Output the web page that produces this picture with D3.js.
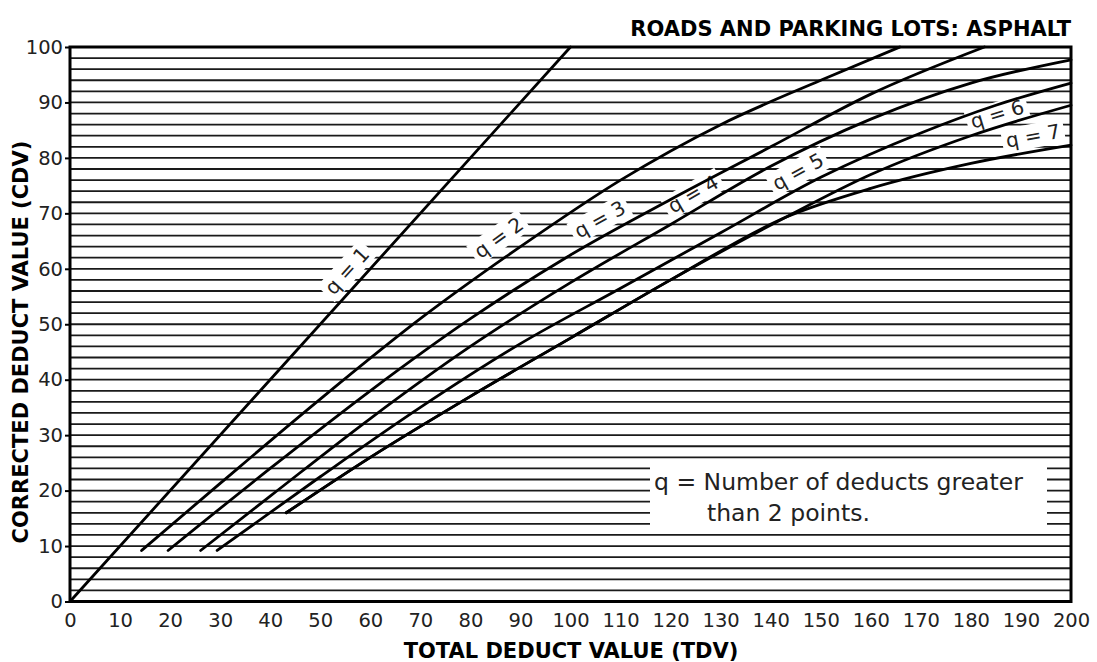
<!DOCTYPE html>
<html>
<head>
<meta charset="utf-8">
<script src="https://cdn.jsdelivr.net/npm/d3@7"></script>
<style>
  body { margin: 0; background: #fff; }
  svg text { font-family: "DejaVu Sans", Verdana, sans-serif; }
</style>
</head>
<body>
<div id="chart"></div>
<script>
"use strict";

// values (TDV on x, CDV on y)
var xTicks = [0,10,20,30,40,50,60,70,80,90,100,110,120,130,140,150,160,170,180,190,200];
var yTicks = [0,10,20,30,40,50,60,70,80,90,100];

var q1Tdv = [0, 100];
var q1Cdv = [0, 100];
var q2Tdv = [14.3, 30, 50, 70, 90, 110, 130, 150, 165.8];
var q2Cdv = [9.2, 21.3, 36.5, 51, 64, 76, 86, 94, 100];
var q3Tdv = [19.6, 40, 60, 80, 100, 120, 140, 160, 182.7];
var q3Cdv = [9.2, 24, 38, 51, 62.5, 72.5, 82, 91.5, 100];
var q4Tdv = [26.1, 40, 60, 80, 100, 120, 140, 160, 180, 200];
var q4Cdv = [9.2, 19, 33, 46, 57.5, 68, 78.5, 87, 93.5, 97.7];
var q5Tdv = [29.4, 50, 70, 90, 110, 130, 150, 170, 185, 200];
var q5Cdv = [9.2, 22.5, 35, 46.5, 56.5, 66.5, 76.5, 84.5, 89.5, 93.5];
var q6Tdv = [43.2, 60, 80, 100, 120, 143, 160, 180, 200];
var q6Cdv = [16, 26, 37, 47.5, 58, 69.3, 77, 84, 89.5];
var q7Tdv = [43.2, 60, 80, 100, 120, 143, 160, 180, 200];
var q7Cdv = [16, 26, 37, 47.5, 58, 69.3, 74.5, 79, 82.3];

var curveNames = ["q = 1", "q = 2", "q = 3", "q = 4", "q = 5", "q = 6", "q = 7"];
// where the label sits along each curve (TDV) and how far above it
var labelAt = [57.7, 88, 107.5, 126, 147, 186, 193];
var labelOffset = [16, 20, 17, 15, 16, 13, 16];

var curves = [
  [q1Tdv, q1Cdv], [q2Tdv, q2Cdv], [q3Tdv, q3Cdv], [q4Tdv, q4Cdv],
  [q5Tdv, q5Cdv], [q6Tdv, q6Cdv], [q7Tdv, q7Cdv]
].map(function (c, i) {
  return { name: curveNames[i], pts: c[0].map(function (t, j) { return [t, c[1][j]]; }) };
});

var W = 1097, H = 662;
var svg = d3.select("#chart").append("svg")
  .attr("width", W).attr("height", H);

var x = d3.scaleLinear().domain([0, 200]).range([70, 1071]);
var y = d3.scaleLinear().domain([0, 100]).range([601.5, 47]);

// horizontal rules every 2 units
svg.append("g").selectAll("line")
  .data(d3.range(2, 100, 2))
  .enter().append("line")
  .attr("x1", x(0)).attr("x2", x(200))
  .attr("y1", function (d) { return y(d); })
  .attr("y2", function (d) { return y(d); })
  .attr("stroke", "#1a1a1a")
  .attr("stroke-width", 1.8);

// legend note box
var note = svg.append("g");
note.append("rect")
  .attr("x", 650).attr("y", 461)
  .attr("width", 397).attr("height", 68)
  .attr("fill", "#fff");
note.append("text")
  .attr("x", 654).attr("y", 490)
  .attr("font-size", 23.5).attr("fill", "#222")
  .text("q = Number of deducts greater");
note.append("text")
  .attr("x", 707).attr("y", 521)
  .attr("font-size", 23.5).attr("fill", "#222")
  .text("than 2 points.");

// label positions along each curve
function labelPos(c, t, off) {
  var f = d3.scaleLinear().domain(c.pts.map(function (p) { return p[0]; }))
                          .range(c.pts.map(function (p) { return p[1]; }));
  var x0 = x(t - 2), y0 = y(f(t - 2)), x1 = x(t + 2), y1 = y(f(t + 2));
  var ang = Math.atan2(y1 - y0, x1 - x0);
  var px = x(t), py = y(f(t));
  return { x: px + Math.sin(ang) * off, y: py - Math.cos(ang) * off, a: ang * 180 / Math.PI };
}

var labels = svg.append("g").selectAll("g")
  .data(curves)
  .enter().append("g")
  .attr("transform", function (d, i) {
    var p = labelPos(d, labelAt[i], labelOffset[i]);
    return "translate(" + p.x + "," + p.y + ") rotate(" + p.a + ")";
  });

var lineGen = d3.line()
  .x(function (d) { return x(d[0]); })
  .y(function (d) { return y(d[1]); })
  .curve(d3.curveMonotoneX);

labels.append("text")
  .attr("text-anchor", "middle")
  .attr("dy", "0.35em")
  .attr("font-size", 20)
  .attr("fill", "#222")
  .text(function (d) { return d.name; });

labels.insert("rect", "text")
  .attr("fill", "#fff")
  .each(function () {
    var w = this.parentNode.querySelector("text").getComputedTextLength() + 8;
    d3.select(this).attr("x", -w / 2).attr("y", -12).attr("width", w).attr("height", 24);
  });

// the curves
svg.append("g").selectAll("path")
  .data(curves)
  .enter().append("path")
  .attr("d", function (d) { return lineGen(d.pts); })
  .attr("fill", "none")
  .attr("stroke", "#000")
  .attr("stroke-width", 2.8)
  .attr("stroke-linecap", "round");

// frame
svg.append("rect")
  .attr("x", x(0)).attr("y", y(100))
  .attr("width", x(200) - x(0)).attr("height", y(0) - y(100))
  .attr("fill", "none").attr("stroke", "#000").attr("stroke-width", 3);

// axes
var yAxis = d3.axisLeft(y).tickValues(yTicks).tickSize(5).tickPadding(2);
var gy = svg.append("g").attr("transform", "translate(" + x(0) + ",0)").call(yAxis);
var xAxis = d3.axisBottom(x).tickValues(xTicks).tickSize(0).tickPadding(12);
var gx = svg.append("g").attr("transform", "translate(0," + y(0) + ")").call(xAxis);
[gx, gy].forEach(function (g) {
  g.select(".domain").remove();
  g.selectAll(".tick line").attr("stroke", "#000").attr("stroke-width", 2);
  g.selectAll(".tick text")
    .attr("font-family", "DejaVu Sans, sans-serif")
    .attr("font-size", 19.5).attr("fill", "#222");
});

// titles
svg.append("text")
  .attr("x", 1071).attr("y", 36)
  .attr("text-anchor", "end")
  .attr("font-size", 21).attr("font-weight", "bold")
  .text("ROADS AND PARKING LOTS: ASPHALT");

svg.append("text")
  .attr("x", 571).attr("y", 658)
  .attr("text-anchor", "middle")
  .attr("font-size", 21).attr("font-weight", "bold")
  .text("TOTAL DEDUCT VALUE (TDV)");

svg.append("text")
  .attr("transform", "translate(28,342) rotate(-90)")
  .attr("text-anchor", "middle")
  .attr("font-size", 21).attr("font-weight", "bold")
  .text("CORRECTED DEDUCT VALUE (CDV)");
</script>
</body>
</html>
